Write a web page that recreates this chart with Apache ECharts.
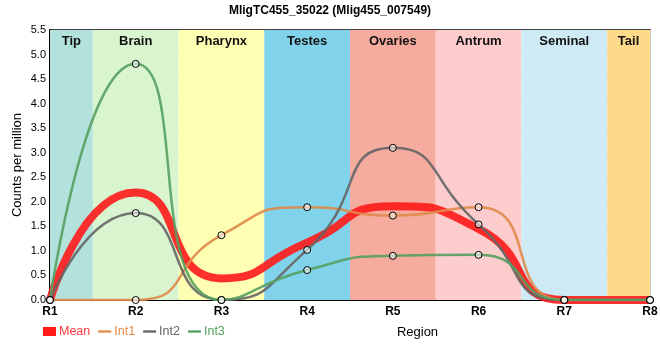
<!DOCTYPE html>
<html><head><meta charset="utf-8">
<script src="https://cdn.jsdelivr.net/npm/echarts@6/dist/echarts.min.js"></script>
<style>html,body{margin:0;padding:0;background:#fff}#c{width:660px;height:360px}</style>
</head><body><div id="c"></div>
<script>
const categories = ['R1','R2','R3','R4','R5','R6','R7','R8'];
const meanVals = [0, 2.19, 0.44, 1.17, 1.91, 1.45, 0, 0];
const int1Vals = [0, 0, 1.32, 1.89, 1.72, 1.89, 0, 0];
const int2Vals = [0, 1.77, 0, 1.02, 3.10, 1.54, 0, 0];
const int3Vals = [0, 4.81, 0, 0.61, 0.90, 0.92, 0, 0];
const bandNames = ['Tip','Brain','Pharynx','Testes','Ovaries','Antrum','Seminal','Tail'];
const bandStart = [0, 0.5, 1.5, 2.5, 3.5, 4.5, 5.5, 6.5];
const bandEnd   = [0.5, 1.5, 2.5, 3.5, 4.5, 5.5, 6.5, 7];
const bandColors = ['#b3e2dd','#d8f5cf','#ffffb3','#80d3eb','#f5ab9e','#fdcccc','#cdeaf5','#fdd98a'];
const yTicks = [0,0.5,1,1.5,2,2.5,3,3.5,4,4.5,5,5.5];

const toXY = arr => arr.map((v,i)=>[i,v]);
const chart = echarts.init(document.getElementById('c'), null, {renderer:'canvas'});
const colors = {Mean:'#ff1a1a', Int1:'#e08a48', Int2:'#666666', Int3:'#55a060'};
function lineSeries(name, vals, width, z){
  const isMean = name==='Mean';
  return {
    name, type:'line', data: toXY(vals), smooth:0.6, z,
    showSymbol: !isMean, symbol: isMean?'none':'circle', symbolSize:7,
    itemStyle: isMean ? {color: colors[name]} : {color:'rgba(255,255,255,0.55)', borderColor:'#000', borderWidth:1},
    lineStyle:{color: colors[name], width, opacity:0.9},
    emphasis:{disabled:true}, animation:false
  };
}
const s0 = lineSeries('Mean', meanVals, 8, 3);
s0.markArea = {
  silent:true,
  data: bandNames.map((n,i)=>[{name:n, xAxis:bandStart[i], itemStyle:{color:bandColors[i]}},{xAxis:bandEnd[i]}]),
  label:{show:true, position:'insideTop', distance:5, fontWeight:'bold', fontSize:13, color:'#111', fontFamily:'Arial, Liberation Sans, sans-serif'}
};
const series = [
  s0,
  lineSeries('Int1', int1Vals, 2.5, 4),
  lineSeries('Int2', int2Vals, 2.5, 4),
  lineSeries('Int3', int3Vals, 2.5, 4)
];
const lineIcon = 'path://M0,4L14,4L14,6.5L0,6.5Z';
function legItem(name, icon){
  return {name, icon, itemStyle:{color:colors[name], borderWidth:0, borderColor:colors[name]}, textStyle:{color: name==='Mean'?'#ff3a3a':colors[name]}};
}
chart.setOption({
  animation:false,
  textStyle:{fontFamily:'Arial, Liberation Sans, sans-serif'},
  title:{text:'MligTC455_35022 (Mlig455_007549)', left:'center', top:0,
    textStyle:{fontSize:12, fontWeight:'bold', color:'#000'}},
  grid:{left:50, right:10, top:30, bottom:60, outerBoundsMode:'none', containLabel:false,
    show:true, borderColor:'#000', borderWidth:1.5, backgroundColor:'transparent'},
  legend:{left:43, top:325, itemGap:8, itemWidth:13, itemHeight:9, padding:0,
    data:[legItem('Mean','rect'), legItem('Int1',lineIcon), legItem('Int2',lineIcon), legItem('Int3',lineIcon)],
    textStyle:{fontSize:12.5, padding:[0,0,0,-2]}, selectedMode:false},
  xAxis:{type:'value', min:0, max:7, interval:1,
    name:'Region', nameLocation:'middle', nameGap:26,
    nameTextStyle:{fontSize:13, color:'#000', padding:[0,0,0,135]},
    axisLine:{show:true, lineStyle:{color:'#000', width:2}},
    axisTick:{show:false},
    axisLabel:{formatter:v=>categories[v]||'', fontSize:12, fontWeight:'bold', color:'#000', margin:6},
    splitLine:{show:true, lineStyle:{color:'#cccccc', width:1}}},
  yAxis:{type:'value', min:0, max:5.5, interval:0.5,
    name:'Counts per million', nameLocation:'middle', nameGap:26, nameRotate:90, nameMoveOverlap:false,
    nameTextStyle:{fontSize:13, color:'#000'},
    axisLine:{show:true, lineStyle:{color:'#000', width:2}},
    axisTick:{show:false},
    axisLabel:{formatter:v=>{const t=yTicks.find(x=>Math.abs(x-v)<1e-9); return (t===undefined?v:t).toFixed(1);}, fontSize:11, color:'#000', margin:4},
    splitLine:{show:true, lineStyle:{color:'#cccccc', width:1}}},
  series
});
</script></body></html>
